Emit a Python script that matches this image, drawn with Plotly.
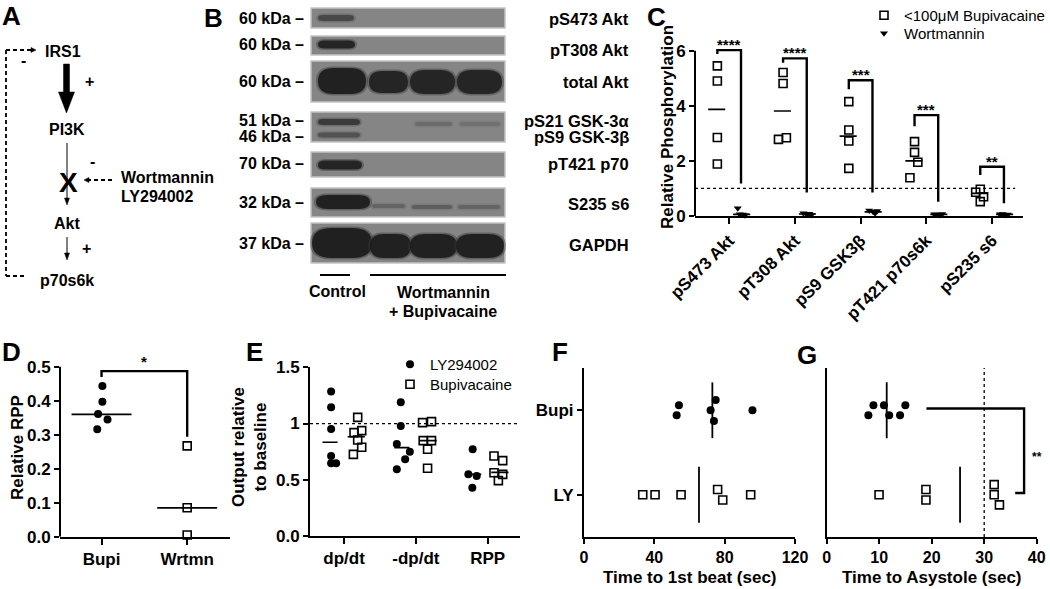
import plotly.graph_objects as go

W, H = 1050, 589
FONT = "Liberation Sans, Arial, Helvetica, sans-serif"


def px(x):
    return x / W


def py(y):
    return 1 - y / H


# ---------------- data ----------------
# Panel C: relative phosphorylation
c_categories = ["pS473 Akt", "pT308 Akt", "pS9 GSK3β", "pT421 p70s6k", "pS235 s6"]
c_bupi = [[5.45, 4.90, 2.85, 1.89], [5.21, 4.81, 2.78, 2.84], [4.15, 3.12, 2.72, 1.73],
          [2.70, 2.31, 1.95, 1.39], [0.97, 0.86, 0.70, 0.52]]
c_bupi_mean = [3.87, 3.81, 2.90, 2.00, 0.82]
c_wort = [[0.28, 0.06, 0.05, 0.03], [0.10, 0.06, 0.08, 0.04], [0.20, 0.15, 0.10, 0.18],
          [0.06, 0.05, 0.04, 0.07], [0.06, 0.07, 0.04, 0.05]]
c_wort_mean = [0.06, 0.07, 0.15, 0.06, 0.06]
c_bracket_top = [6.02, 5.72, 4.93, 3.66, 1.79]
c_bracket_left = [5.88, 5.56, 4.60, 3.26, 1.49]
c_bracket_right = [1.18, 0.85, 0.85, 0.52, 0.46]
c_stars = ["****", "****", "***", "***", "**"]
c_yticks = [0, 2, 4, 6]

# Panel D: relative RPP
d_groups = ["Bupi", "Wrtmn"]
d_bupi = [0.443, 0.397, 0.361, 0.345, 0.316]
d_wrtmn = [0.267, 0.085, 0.005]
d_means = [0.36, 0.085]
d_bracket = [0.487, 0.47, 0.294]
d_yticks = [0.0, 0.1, 0.2, 0.3, 0.4, 0.5]

# Panel E: output relative to baseline
e_categories = ["dp/dt", "-dp/dt", "RPP"]
e_ly = [[1.284, 1.144, 0.952, 0.711, 0.646, 0.646],
        [1.189, 0.978, 0.818, 0.750, 0.682, 0.593],
        [0.771, 0.548, 0.534, 0.430]]
e_bupi = [[1.055, 0.919, 0.937, 0.854, 0.789, 0.726],
          [1.008, 1.017, 0.848, 0.848, 0.771, 0.602],
          [0.711, 0.670, 0.563, 0.548, 0.492]]
e_ly_mean = [0.833, 0.786, 0.548]
e_bupi_mean = [0.883, 0.848, 0.566]
e_yticks = [0, 0.5, 1, 1.5]
e_yticktext = ["0.0", "0.5", "1", "1.5"]

# Panel F: time to first beat
f_groups = ["LY", "Bupi"]
f_bupi = [54.0, 52.7, 72.0, 74.9, 73.9, 95.8]
f_ly = [33.4, 40.4, 55.2, 76.0, 78.9, 94.8]
f_means = [65.4, 73.0]
f_xticks = [0, 40, 80, 120]

# Panel G: time to asystole
g_bupi = [7.94, 8.9, 10.9, 11.9, 13.97, 14.98]
g_ly = [9.97, 18.9, 18.9, 31.9, 31.9, 32.9]
g_means = [25.4, 11.43]
g_xticks = [0, 10, 20, 30, 40]
g_bracket = [19.0, 37.6, 35.9]

# ---------------- jitter / offsets (layout) ----------------
c_bupi_jit = [[0, 0, 0, 0], [0, 0, -0.07, 0.05], [0, 0, 0, 0], [0, 0, 0.05, -0.07], [0, -0.07, 0.05, 0]]
c_wort_jit = [[-0.03, 0.0, 0.05, 0.08], [-0.03, 0.02, 0.06, 0.09], [-0.03, 0.03, 0.06, 0.09],
              [-0.04, 0.0, 0.04, 0.08], [-0.04, 0.0, 0.04, 0.08]]
d_bupi_jit = [0.01, 0.01, -0.04, 0.07, -0.05]
e_ly_off = [[-0.18, -0.18, -0.18, -0.18, -0.18, -0.11],
            [-0.21, -0.21, -0.265, -0.084, -0.149, -0.265],
            [-0.209, -0.269, -0.153, -0.214]]
e_bupi_off = [[0.19, 0.139, 0.246, 0.19, 0.246, 0.13],
              [0.093, 0.218, 0.102, 0.218, 0.163, 0.163],
              [0.088, 0.209, 0.088, 0.209, 0.149]]
f_bupi_jit = [0.06, -0.06, 0, 0.12, -0.127, 0]
f_ly_jit = [0, 0, 0, 0.063, -0.063, 0]
g_bupi_jit = [-0.06, 0.06, 0.06, -0.06, -0.06, 0.06]
g_ly_jit = [0, 0.063, -0.063, 0.12, 0, -0.12]

fig = go.Figure()

sq = dict(symbol="square-open", size=8, color="black", line=dict(width=1.6, color="black"))
dot = dict(symbol="circle", size=8, color="black")
tri = dict(symbol="triangle-down", size=7, color="black")
LW = 2

# ---------------- Panel C ----------------
cx, cy = [], []
for i, vals in enumerate(c_bupi):
    for v, j in zip(vals, c_bupi_jit[i]):
        cx.append(i + 1 - 0.18 + j)
        cy.append(v)
fig.add_trace(go.Scatter(x=cx, y=cy, mode="markers", marker=sq, name="<100μM Bupivacaine",
                         xaxis="x", yaxis="y", cliponaxis=False, legend="legend"))
wx, wy = [], []
for i, vals in enumerate(c_wort):
    for v, j in zip(vals, c_wort_jit[i]):
        wx.append(i + 1 + 0.16 + j)
        wy.append(v)
fig.add_trace(go.Scatter(x=wx, y=wy, mode="markers", marker=tri, name="Wortmannin",
                         xaxis="x", yaxis="y", cliponaxis=False, legend="legend3"))
mx, my = [], []
for i, m in enumerate(c_bupi_mean):
    mx += [i + 1 - 0.32, i + 1 - 0.06, None]
    my += [m, m, None]
for i, m in enumerate(c_wort_mean):
    mx += [i + 1 + 0.06, i + 1 + 0.32, None]
    my += [m, m, None]
fig.add_trace(go.Scatter(x=mx, y=my, mode="lines", line=dict(color="black", width=1.6),
                         xaxis="x", yaxis="y", showlegend=False, hoverinfo="skip"))
bx, by = [], []
for i in range(len(c_categories)):
    xl, xr = i + 1 - 0.18, i + 1 + 0.18
    bx += [xl, xl, xr, xr, None]
    by += [c_bracket_left[i], c_bracket_top[i], c_bracket_top[i], c_bracket_right[i], None]
fig.add_trace(go.Scatter(x=bx, y=by, mode="lines", line=dict(color="black", width=2.4),
                         xaxis="x", yaxis="y", showlegend=False, hoverinfo="skip"))

# ---------------- Panel D ----------------
fig.add_trace(go.Scatter(x=[0 + j for j in d_bupi_jit], y=d_bupi, mode="markers", marker=dot,
                         xaxis="x2", yaxis="y2", showlegend=False, cliponaxis=False))
fig.add_trace(go.Scatter(x=[1] * len(d_wrtmn), y=d_wrtmn, mode="markers", marker=sq,
                         xaxis="x2", yaxis="y2", showlegend=False, cliponaxis=False))
dmx, dmy = [], []
for i, m in enumerate(d_means):
    dmx += [i - 0.35, i + 0.35, None]
    dmy += [m, m, None]
fig.add_trace(go.Scatter(x=dmx, y=dmy, mode="lines", line=dict(color="black", width=1.8),
                         xaxis="x2", yaxis="y2", showlegend=False, hoverinfo="skip"))
fig.add_trace(go.Scatter(x=[0, 0, 1, 1], y=[d_bracket[1], d_bracket[0], d_bracket[0], d_bracket[2]],
                         mode="lines", line=dict(color="black", width=2.4),
                         xaxis="x2", yaxis="y2", showlegend=False, hoverinfo="skip"))

# ---------------- Panel E ----------------
ex, ey = [], []
for i, vals in enumerate(e_ly):
    for v, o in zip(vals, e_ly_off[i]):
        ex.append(i + o)
        ey.append(v)
fig.add_trace(go.Scatter(x=ex, y=ey, mode="markers", marker=dot, name="LY294002",
                         xaxis="x3", yaxis="y3", legend="legend2", cliponaxis=False))
ebx, eby = [], []
for i, vals in enumerate(e_bupi):
    for v, o in zip(vals, e_bupi_off[i]):
        ebx.append(i + o)
        eby.append(v)
fig.add_trace(go.Scatter(x=ebx, y=eby, mode="markers", marker=sq, name="Bupivacaine",
                         xaxis="x3", yaxis="y3", legend="legend4", cliponaxis=False))
emx, emy = [], []
for i, m in enumerate(e_ly_mean):
    emx += [i - 0.3, i - 0.09, None]
    emy += [m, m, None]
for i, m in enumerate(e_bupi_mean):
    emx += [i + 0.05, i + 0.29, None]
    emy += [m, m, None]
fig.add_trace(go.Scatter(x=emx, y=emy, mode="lines", line=dict(color="black", width=1.6),
                         xaxis="x3", yaxis="y3", showlegend=False, hoverinfo="skip"))

# ---------------- Panel F ----------------
fig.add_trace(go.Scatter(x=f_bupi, y=[1 + j for j in f_bupi_jit], mode="markers", marker=dot,
                         xaxis="x4", yaxis="y4", showlegend=False, cliponaxis=False))
fig.add_trace(go.Scatter(x=f_ly, y=[0 + j for j in f_ly_jit], mode="markers", marker=sq,
                         xaxis="x4", yaxis="y4", showlegend=False, cliponaxis=False))
fmx, fmy = [], []
for i, m in enumerate(f_means):
    fmx += [m, m, None]
    fmy += [i - 0.33, i + 0.33, None]
fig.add_trace(go.Scatter(x=fmx, y=fmy, mode="lines", line=dict(color="black", width=1.8),
                         xaxis="x4", yaxis="y4", showlegend=False, hoverinfo="skip"))

# ---------------- Panel G ----------------
fig.add_trace(go.Scatter(x=g_bupi, y=[1 + j for j in g_bupi_jit], mode="markers", marker=dot,
                         xaxis="x5", yaxis="y5", showlegend=False, cliponaxis=False))
fig.add_trace(go.Scatter(x=g_ly, y=[0 + j for j in g_ly_jit], mode="markers", marker=sq,
                         xaxis="x5", yaxis="y5", showlegend=False, cliponaxis=False))
gmx, gmy = [], []
for i, m in enumerate(g_means):
    gmx += [m, m, None]
    gmy += [i - 0.33, i + 0.33, None]
fig.add_trace(go.Scatter(x=gmx, y=gmy, mode="lines", line=dict(color="black", width=1.8),
                         xaxis="x5", yaxis="y5", showlegend=False, hoverinfo="skip"))
fig.add_trace(go.Scatter(x=[g_bracket[0], g_bracket[1], g_bracket[1], g_bracket[2]],
                         y=[1.02, 1.02, 0.02, 0.02], mode="lines", line=dict(color="black", width=2.4),
                         xaxis="x5", yaxis="y5", showlegend=False, hoverinfo="skip"))

# ---------------- axes ----------------
tickfont = dict(family=FONT, size=17, color="black", weight="bold")
base = dict(showline=True, linewidth=LW, linecolor="black", ticks="outside", ticklen=6, tickwidth=2,
            tickcolor="black", showgrid=False, zeroline=False, tickfont=tickfont, fixedrange=True,
            automargin=False)
small = dict(tickfont, size=16)

fig.update_layout(
    xaxis=dict(base, domain=[px(695), px(1023)], range=[0.48, 5.47], anchor="y",
               tickvals=[1, 2, 3, 4, 5], ticktext=c_categories, tickangle=-45),
    yaxis=dict(base, domain=[py(216), py(216 - 6.6 * 27.55)], range=[0, 6.6], anchor="x",
               showline=False, tickvals=c_yticks, ticklen=5),
    xaxis2=dict(base, domain=[px(60), px(230)], range=[-0.485, 1.5], anchor="y2",
                tickvals=[0, 1], ticktext=d_groups),
    yaxis2=dict(base, domain=[py(536.7), py(536.7 - 0.56 * 340)], range=[0, 0.56], anchor="x2",
                showline=False, tickvals=d_yticks, ticktext=["%.1f" % v for v in d_yticks], ticklen=5),
    xaxis3=dict(base, domain=[px(310), px(520)], range=[-0.474, 2.45], anchor="y3",
                tickvals=[0, 1, 2], ticktext=e_categories),
    yaxis3=dict(base, domain=[py(536), py(367.3)], range=[0, 1.5], anchor="x3",
                tickvals=e_yticks, ticktext=e_yticktext, ticklen=5),
    xaxis4=dict(base, domain=[px(584), px(795)], range=[0, 120], anchor="y4", tickvals=f_xticks,
                tickfont=small, ticklen=5),
    yaxis4=dict(base, domain=[py(537), py(368)], range=[-0.5, 1.5], anchor="x4",
                tickvals=[0, 1], ticktext=f_groups, ticklen=5),
    xaxis5=dict(base, domain=[px(826.7), px(1036.7)], range=[0, 40], anchor="y5", tickvals=g_xticks,
                tickfont=small, ticklen=5),
    yaxis5=dict(base, domain=[py(537), py(368)], range=[-0.5, 1.5], anchor="x5",
                showticklabels=False, ticks=""),
)

shapes = []
ann = []

# axis lines drawn only up to the top tick
shapes.append(dict(type="line", xref="x domain", yref="y", x0=0, x1=0, y0=0, y1=6,
                   line=dict(color="black", width=LW)))
shapes.append(dict(type="line", xref="x2 domain", yref="y2", x0=0, x1=0, y0=0, y1=0.5,
                   line=dict(color="black", width=LW)))
# reference lines
shapes.append(dict(type="line", xref="x domain", yref="y", x0=0, x1=0.976, y0=1, y1=1,
                   line=dict(color="black", width=1.3, dash="dot")))
shapes.append(dict(type="line", xref="x3 domain", yref="y3", x0=0, x1=1, y0=1, y1=1,
                   line=dict(color="black", width=1.3, dash="dot")))
shapes.append(dict(type="line", xref="x5", yref="y5 domain", x0=30, x1=30, y0=0, y1=1,
                   line=dict(color="black", width=1.3, dash="dot")))

# stars
for i, s in enumerate(c_stars):
    ann.append(dict(x=i + 1, y=c_bracket_top[i] + 0.2, xref="x", yref="y", text=s, showarrow=False,
                    font=dict(family=FONT, size=15, color="black", weight="bold")))
ann.append(dict(x=0.5, y=0.515, xref="x2", yref="y2", text="*", showarrow=False,
                font=dict(family=FONT, size=15, color="black", weight="bold")))
ann.append(dict(x=40.0, y=0.45, xref="x5", yref="y5", text="**", showarrow=False,
                font=dict(family=FONT, size=12, color="black", weight="bold")))

# axis titles
tfont = dict(family=FONT, size=17, color="black", weight="bold")
ann += [
    dict(x=px(667), y=py(127), xref="paper", yref="paper", text="Relative Phosphorylation",
         textangle=-90, showarrow=False, font=tfont),
    dict(x=px(17), y=py(448), xref="paper", yref="paper", text="Relative RPP",
         textangle=-90, showarrow=False, font=tfont),
    dict(x=px(250), y=py(447), xref="paper", yref="paper", text="Output relative<br>to baseline",
         textangle=-90, showarrow=False, font=tfont),
    dict(x=px(690), y=py(577), xref="paper", yref="paper", text="Time to 1st beat (sec)",
         showarrow=False, font=tfont),
    dict(x=px(932), y=py(577), xref="paper", yref="paper", text="Time to Asystole (sec)",
         showarrow=False, font=tfont),
]

# panel letters
lfont = dict(family=FONT, size=26, color="black", weight="bold")
for t, x, y in [("A", 11, 16), ("B", 213, 18), ("C", 656, 17), ("D", 11, 352),
                ("E", 254, 352), ("F", 560, 352), ("G", 807, 355)]:
    ann.append(dict(x=px(x), y=py(y), xref="paper", yref="paper", text=t, showarrow=False, font=lfont))

# ---------------- Panel A diagram ----------------
dfont = dict(family=FONT, size=16, color="black", weight="bold")


def pline(x0, y0, x1, y1, width=1.2, dash=None):
    d = dict(type="line", xref="paper", yref="paper", x0=px(x0), y0=py(y0), x1=px(x1), y1=py(y1),
             line=dict(color="black", width=width))
    if dash:
        d["line"]["dash"] = dash
    shapes.append(d)


def ppoly(pts):
    path = "M " + " L ".join("%f,%f" % (px(a), py(b)) for a, b in pts) + " Z"
    shapes.append(dict(type="path", xref="paper", yref="paper", path=path, fillcolor="black",
                       line=dict(color="black", width=0.5)))


dash = "4px,3px"
pline(6, 50, 32, 50, 1.8, dash)
ppoly([(31, 47.5), (36, 50), (31, 52.5)])
pline(6, 50, 6, 276, 1.8, dash)
pline(6, 276, 25, 276, 1.8, dash)
# thick arrow IRS1 -> PI3K
ppoly([(63.5, 64), (69.5, 64), (69.5, 92), (74.5, 92), (66.5, 113), (58.5, 92), (63.5, 92)])
# thin arrow PI3K -> Akt
pline(67, 143, 67, 200, 1.0)
ppoly([(64.5, 198), (69.5, 198), (67, 205)])
# inhibitor dashed arrow
pline(112, 180, 88, 180, 1.8, dash)
ppoly([(89, 177.5), (84, 180), (89, 182.5)])
# Akt -> p70s6k
pline(67, 237, 67, 255, 1.0)
ppoly([(64.5, 253), (69.5, 253), (67, 260)])

diag = [
    dict(x=px(63), y=py(52), text="IRS1"),
    dict(x=px(23), y=py(61), text="-"),
    dict(x=px(89), y=py(82), text="+"),
    dict(x=px(67), y=py(130), text="PI3K"),
    dict(x=px(92), y=py(161), text="-"),
    dict(x=px(67), y=py(223), text="Akt"),
    dict(x=px(86), y=py(248), text="+"),
    dict(x=px(67), y=py(280), text="p70s6k"),
    dict(x=px(119), y=py(178), text="Wortmannin", xanchor="left"),
    dict(x=px(119), y=py(196), text="LY294002", xanchor="left"),
]
for a in diag:
    a.update(xref="paper", yref="paper", showarrow=False, font=dfont)
ann += diag
ann.append(dict(x=px(68), y=py(182), xref="paper", yref="paper", text="X", showarrow=False,
                font=dict(family=FONT, size=28, color="black", weight="bold")))

# ---------------- Panel B blot ----------------
blot_x0, blot_x1 = 311, 505
blot_strips = [(8, 28), (36, 55), (61, 102), (112, 142), (152, 177), (188, 217), (223, 263)]
blot_left = [("60 kDa –", 19), ("60 kDa –", 45), ("60 kDa –", 82), ("51 kDa –", 120.5),
             ("46 kDa –", 136.5), ("70 kDa –", 164), ("32 kDa –", 202), ("37 kDa –", 243)]
blot_right = [("pS473 Akt", 19), ("pT308 Akt", 50), ("total Akt", 82), ("pS21 GSK-3α", 121),
              ("pS9 GSK-3β", 137), ("pT421 p70", 164), ("S235 s6", 204), ("GAPDH", 245)]
# bands: (x0, x1, y-centre, half-height, intensity)
blot_bands = [
    (318, 354, 18, 3, 0.5),
    (318, 355, 44.5, 4, 0.9),
    (318, 366, 81, 13, 0.95), (369, 408, 82, 11, 0.9), (410, 455, 82, 12, 0.9), (457, 502, 82, 12, 0.9),
    (318, 360, 122, 3, 0.65), (318, 360, 135, 2.5, 0.4), (415, 452, 124, 2, 0.2), (460, 500, 124, 2, 0.15),
    (318, 362, 165, 4.5, 0.9),
    (316, 370, 202, 7, 0.95), (372, 405, 206, 2, 0.25), (412, 452, 207, 2, 0.3), (458, 500, 207, 2, 0.25),
    (312, 372, 243, 15, 0.97), (370, 411, 246, 12, 0.95), (410, 457, 246, 12, 0.95), (456, 504, 246, 12, 0.95),
]
for (y0, y1) in blot_strips:
    shapes.append(dict(type="rect", xref="paper", yref="paper", x0=px(blot_x0), x1=px(blot_x1),
                       y0=py(y1), y1=py(y0), fillcolor="#858585", line=dict(color="#c4c4c4", width=1.5)))


def capsule(x0, x1, yc, hh):
    r = min(hh * 1.6, (x1 - x0) / 3)
    ya, yb = yc - hh, yc + hh
    pts = [("M", x0 + r, ya), ("L", x1 - r, ya), ("Q", x1, ya, x1, yc), ("Q", x1, yb, x1 - r, yb),
           ("L", x0 + r, yb), ("Q", x0, yb, x0, yc), ("Q", x0, ya, x0 + r, ya)]
    s = ""
    for p in pts:
        if p[0] == "Q":
            s += "Q %f,%f %f,%f " % (px(p[1]), py(p[2]), px(p[3]), py(p[4]))
        else:
            s += "%s %f,%f " % (p[0], px(p[1]), py(p[2]))
    return s + "Z"


for (x0, x1, yc, hh, inten) in blot_bands:
    # soft halo then core to mimic a blurred band
    shapes.append(dict(type="path", xref="paper", yref="paper", path=capsule(x0 - 2, x1 + 2, yc, hh + 1.5),
                       fillcolor="#333333", opacity=inten * 0.45, line=dict(width=0)))
    shapes.append(dict(type="path", xref="paper", yref="paper", path=capsule(x0, x1, yc, hh),
                       fillcolor="#1e1e1e", opacity=inten, line=dict(width=0)))

bfont = dict(family=FONT, size=16, color="black", weight="bold")
for t, y in blot_left:
    ann.append(dict(x=px(306), y=py(y), xref="paper", yref="paper", text=t, showarrow=False,
                    xanchor="right", font=bfont))
for t, y in blot_right:
    ann.append(dict(x=px(631), y=py(y), xref="paper", yref="paper", text=t, showarrow=False,
                    xanchor="right", font=dict(bfont, size=16.5)))
pline(320, 275, 350, 275, 2)
pline(370, 275, 506, 275, 2)
for t, x, y in [("Control", 337, 291), ("Wortmannin", 443, 292), ("+ Bupivacaine", 443, 311)]:
    ann.append(dict(x=px(x), y=py(y), xref="paper", yref="paper", text=t, showarrow=False, font=bfont))

# explicit anchors: paper annotations default to 'auto' which shifts them
for a in ann:
    a.setdefault("xanchor", "center")
    a.setdefault("yanchor", "middle")

legfont = dict(family=FONT, size=15, color="black")


def leg(xp, ytop):
    return dict(x=px(xp), y=1 - ytop / H, xanchor="left", yanchor="top", bgcolor="rgba(0,0,0,0)",
                font=legfont, tracegroupgap=0)


fig.update_layout(
    template="none",
    width=W, height=H, autosize=False, margin=dict(l=0, r=0, t=0, b=0, pad=0, autoexpand=False),
    plot_bgcolor="white", paper_bgcolor="white",
    font=dict(family=FONT, color="black"),
    shapes=shapes, annotations=ann,
    legend=leg(864, -1),
    legend3=leg(864, 17),
    legend2=leg(390, 348),
    legend4=leg(390, 368),
)

fig.write_html("out.html", config={"displayModeBar": False, "displaylogo": False},
               post_script="document.body.style.margin='0';document.body.style.padding='0';")
